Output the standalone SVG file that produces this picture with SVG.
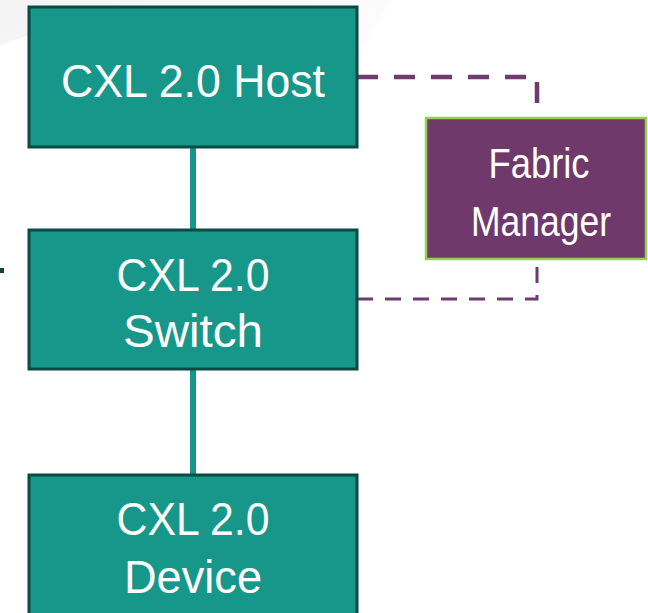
<svg xmlns="http://www.w3.org/2000/svg" width="648" height="613" viewBox="0 0 648 613">
<style>
.box{fill:#17978a;stroke:#0b4a42;stroke-width:3}
.fm{fill:#6f3a6b;stroke:#92d050;stroke-width:2.5}
.t{font-family:"Liberation Sans",Arial,sans-serif;fill:#ffffff;text-anchor:middle}
.solid{stroke:#17978a;stroke-width:6;fill:none}
.dash{stroke:#6e3b6e;fill:none}
</style>
<defs>
<linearGradient id="bg" x1="0" y1="0" x2="1" y2="0.3">
<stop offset="0" stop-color="#f3f3f3"/>
<stop offset="1" stop-color="#fcfcfc"/>
</linearGradient>
</defs>
<rect width="648" height="613" fill="#ffffff"/>
<polygon points="0,0 390,0 362,55 240,30 60,25 0,45" fill="url(#bg)"/>
<rect x="0" y="268" width="4" height="5" fill="#17403d"/>
<g id="connectors">
<line class="solid" x1="193" y1="147" x2="193" y2="230"/>
<line class="solid" x1="193" y1="369" x2="193" y2="475"/>
<path class="dash" d="M357,77 H537 V117" stroke-width="4.5" stroke-dasharray="21 16"/>
<path class="dash" d="M357,299 H537 V258" stroke-width="3" stroke-dasharray="16 12"/>
</g>
<g id="host">
<rect class="box" x="29" y="7" width="328" height="140"/>
<text class="t" x="193" y="97" font-size="46" textLength="264" lengthAdjust="spacingAndGlyphs">CXL 2.0 Host</text>
</g>
<g id="switch">
<rect class="box" x="29" y="230" width="328" height="139"/>
<text class="t" x="193" y="291" font-size="47" textLength="153" lengthAdjust="spacingAndGlyphs">CXL 2.0</text>
<text class="t" x="193" y="347" font-size="47" textLength="140" lengthAdjust="spacingAndGlyphs">Switch</text>
</g>
<g id="device">
<rect class="box" x="29" y="475" width="328" height="145"/>
<text class="t" x="193" y="535" font-size="47" textLength="153" lengthAdjust="spacingAndGlyphs">CXL 2.0</text>
<text class="t" x="193" y="593" font-size="47" textLength="138" lengthAdjust="spacingAndGlyphs">Device</text>
</g>
<g id="fabric-manager">
<rect class="fm" x="426" y="118" width="220" height="141"/>
<text class="t" x="539" y="178" font-size="43" textLength="101" lengthAdjust="spacingAndGlyphs">Fabric</text>
<text class="t" x="541" y="236" font-size="43" textLength="140" lengthAdjust="spacingAndGlyphs">Manager</text>
</g>
</svg>
